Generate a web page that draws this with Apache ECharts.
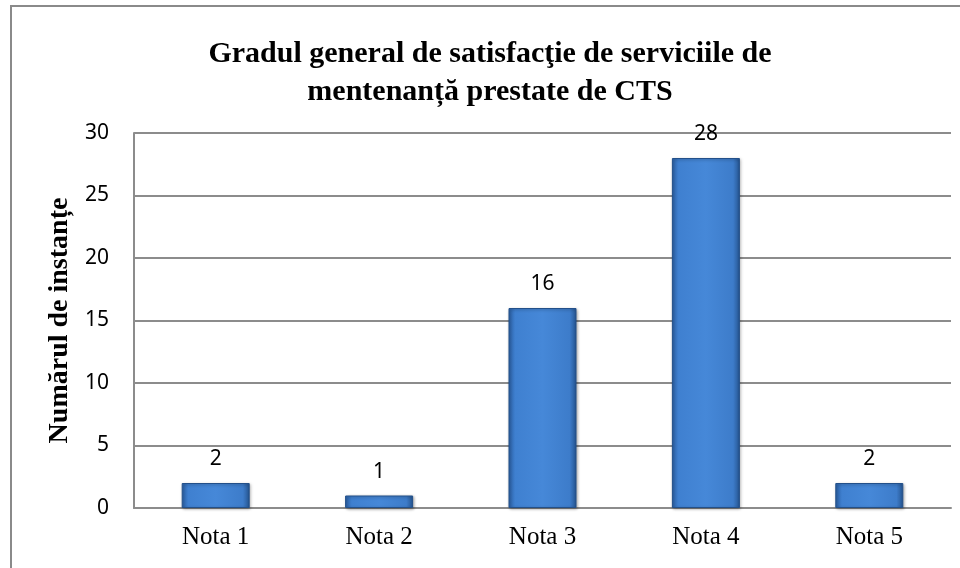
<!DOCTYPE html>
<html>
<head>
<meta charset="utf-8">
<script src="https://cdn.jsdelivr.net/npm/echarts@6/dist/echarts.min.js"></script>
<style>
  html, body { margin: 0; padding: 0; background: #fff; }
  #chart { width: 960px; height: 568px; }
</style>
</head>
<body>
<div id="chart"></div>
<script>
// data
var categories = ['Nota 1', 'Nota 2', 'Nota 3', 'Nota 4', 'Nota 5'];
var counts = [2, 1, 16, 28, 2];
var yTicks = { min: 0, max: 30, interval: 5 };

var chart = echarts.init(document.getElementById('chart'));

var barColor = new echarts.graphic.LinearGradient(0, 0, 1, 0, [
  { offset: 0, color: '#2c62a8' },
  { offset: 0.1, color: '#3f80d0' },
  { offset: 0.5, color: '#4688d8' },
  { offset: 0.9, color: '#3d7cca' },
  { offset: 1, color: '#25548f' }
]);

chart.setOption({
  animation: false,
  title: {
    text: 'Gradul general de satisfacţie de serviciile de\nmentenanță prestate de CTS',
    left: 485,
    textAlign: 'center',
    top: 30,
    textStyle: {
      fontFamily: 'Liberation Serif',
      fontWeight: 'bold',
      fontSize: 30,
      lineHeight: 38,
      color: '#000'
    }
  },
  graphic: [{
    type: 'rect',
    shape: { x: 11, y: 6, width: 1000, height: 700 },
    style: { fill: 'none', stroke: '#8a8a8a', lineWidth: 2 },
    silent: true
  }],
  grid: { left: 134, right: 9, top: 133, bottom: 60 },
  xAxis: {
    type: 'category',
    data: categories,
    axisLine: { show: true, lineStyle: { color: '#8c8c8c', width: 2 } },
    axisTick: { show: false },
    axisLabel: {
      margin: 17,
      fontFamily: 'Liberation Serif',
      fontSize: 25,
      color: '#000'
    }
  },
  yAxis: {
    type: 'value',
    min: yTicks.min,
    max: yTicks.max,
    interval: yTicks.interval,
    name: 'Numărul de instanțe',
    nameLocation: 'middle',
    nameGap: 60,
    nameTextStyle: {
      fontFamily: 'Liberation Serif',
      fontWeight: 'bold',
      fontSize: 28,
      color: '#000'
    },
    axisLine: { show: true, lineStyle: { color: '#8c8c8c', width: 2 } },
    axisTick: { show: false },
    axisLabel: {
      margin: 25,
      fontFamily: 'Noto Sans',
      fontSize: 21,
      color: '#000'
    },
    splitLine: { lineStyle: { color: '#8c8c8c', width: 2 } }
  },
  series: [{
    type: 'bar',
    data: counts,
    barWidth: 68,
    itemStyle: {
      color: barColor,
      borderColor: '#23508a',
      borderWidth: 1,
      shadowBlur: 3,
      shadowColor: 'rgba(0,0,0,0.35)',
      shadowOffsetX: 1,
      shadowOffsetY: 1
    },
    label: {
      show: true,
      position: 'top',
      distance: 13,
      fontFamily: 'Noto Sans',
      fontSize: 21,
      color: '#000'
    }
  }]
});
</script>
</body>
</html>
